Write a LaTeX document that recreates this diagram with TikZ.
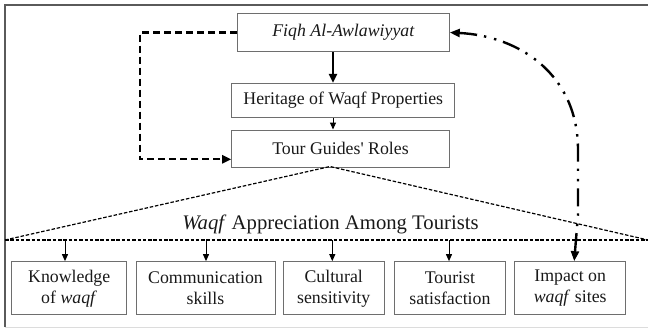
\documentclass[tikz,border=0pt]{standalone}
\usepackage{fontspec}
\setmainfont{LiberationSerif}[Extension=.ttf, UprightFont=*-Regular, ItalicFont=*-Italic, BoldFont=*-Bold, BoldItalicFont=*-BoldItalic]
\usetikzlibrary{arrows.meta,calc}
\definecolor{boxgray}{RGB}{110,110,110}
\definecolor{framegray}{RGB}{90,90,90}
\definecolor{lightframe}{RGB}{220,220,220}
\definecolor{ink}{RGB}{25,25,25}
\begin{document}
\begin{tikzpicture}[x=1pt,y=-1pt,
  box/.style={draw=boxgray, line width=1pt, inner sep=0pt, text=ink,
    font=\fontsize{17.8}{21}\selectfont, align=center},
  thickarrow/.style={line width=2.2pt, -{Triangle[length=9pt,width=8pt]}},
  thinarrow/.style={line width=1pt, -{Triangle[length=7pt,width=6pt]}},
  leftdash/.style={line width=2.2pt, dash pattern=on 7pt off 4pt, -{Triangle[length=9pt,width=8pt]}},
  tridash/.style={line width=1.2pt, dash pattern=on 3.5pt off 1.8pt},
  dashdotdot/.style={line width=2.4pt, dash pattern=on 18pt off 7pt on 2.4pt off 8pt on 2.4pt off 7pt,
    {Triangle[length=10pt,width=8pt]}-{Triangle[length=10pt,width=8pt]}},
  frameline/.style={draw=framegray, line width=1.3pt}]
\useasboundingbox (0,0) rectangle (648,329);
% frame
\draw[frameline] (5,327) -- (5,5) -- (648,5);
\draw[draw=lightframe, line width=1.2pt] (5,327.5) -- (648,327.5);

% top boxes
\node[box, minimum width=212pt, minimum height=38.4pt] (fiqh) at (343.3,32.5) {\itshape Fiqh Al-Awlawiyyat};
\node[box, minimum width=223.3pt, minimum height=34pt] (heritage) at (343.3,100.3) {Heritage of Waqf Properties};
\node[box, minimum width=217.6pt, minimum height=37.3pt] (tour) at (340.5,148.7) {Tour Guides\textquotesingle\ Roles};

% vertical arrows
\coordinate (ax) at (333,0);
\draw[thickarrow] (fiqh.south -| ax) -- (heritage.north -| ax);
\draw[thinarrow] (heritage.south -| ax) -- (tour.north -| ax);

% left dashed loop
\coordinate (c1) at (140,32.5);
\coordinate (c2) at (140,159.3);
\draw[leftdash] (fiqh.west) -- (c1) -- (c2) -- (c2 -| tour.west);

% triangle and base line
\coordinate (apex) at (330,166.5);
\coordinate (bl) at (5,240);
\coordinate (br) at (648,240);
\draw[tridash] (bl) -- (apex) -- (br);
\draw[tridash] (bl) -- (br);

\node[anchor=base, text=ink, font=\fontsize{20.7}{24}\selectfont, inner sep=0pt] (title) at (330.5,229) {\textit{Waqf} Appreciation Among Tourists};

% bottom boxes
\node[box, minimum width=115pt, minimum height=53.3pt] (b1) at (69.2,288.3) {Knowledge\\of \textit{waqf}};
\node[box, minimum width=139pt, minimum height=53.3pt] (b2) at (205.5,288.3) {Communication\\skills};
\node[box, minimum width=100.7pt, minimum height=53.3pt] (b3) at (333.7,288.3) {Cultural\\sensitivity};
\node[box, minimum width=111.7pt, minimum height=53.3pt] (b4) at (449.9,288.3) {Tourist\\satisfaction};
\node[box, minimum width=111pt, minimum height=53.3pt] (b5) at (570.2,288.3) {Impact on\\\textit{waqf} sites};

% small arrows from base line
\coordinate (l1) at (65,240);
\coordinate (l2) at (206,240);
\coordinate (l3) at (332.3,240);
\coordinate (l4) at (449,240);
\draw[thinarrow] (l1) -- (l1 |- b1.north);
\draw[thinarrow] (l2) -- (l2 |- b2.north);
\draw[thinarrow] (l3) -- (l3 |- b3.north);
\draw[thinarrow] (l4) -- (l4 |- b4.north);

% dash-dot-dot feedback curve
\coordinate (ip) at ($(b5.north)+(4,0)$);
\draw[dashdotdot] (fiqh.east) .. controls (520,36) and (578,75) .. (578,150) -- (578,215) -- (ip);
\end{tikzpicture}
\end{document}
